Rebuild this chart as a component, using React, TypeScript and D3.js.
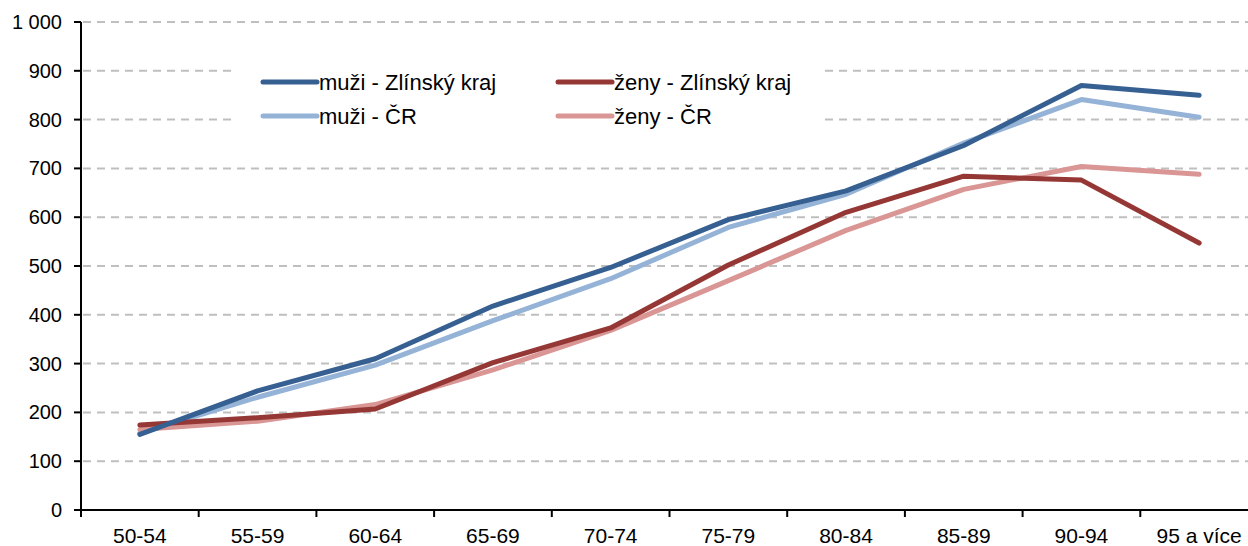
import React from "react";
import * as d3 from "d3";

const categories = ["50-54", "55-59", "60-64", "65-69", "70-74", "75-79", "80-84", "85-89", "90-94", "95 a více"];
const muziZlin = [155, 244, 310, 418, 497, 595, 654, 747, 870, 850];
const muziCR = [157, 231, 297, 388, 474, 579, 647, 752, 841, 805];
const zenyZlin = [174, 189, 207, 302, 373, 502, 610, 684, 676, 547];
const zenyCR = [165, 182, 216, 287, 368, 470, 573, 657, 704, 688];
const yTicks = [0, 100, 200, 300, 400, 500, 600, 700, 800, 900, 1000];

const seriesList = [
  { name: "muži - Zlínský kraj", values: muziZlin, color: "#376092" },
  { name: "ženy - Zlínský kraj", values: zenyZlin, color: "#953735" },
  { name: "muži - ČR", values: muziCR, color: "#95B3D7" },
  { name: "ženy - ČR", values: zenyCR, color: "#D99694" },
];
const drawOrder = [2, 3, 1, 0];

const W = 1248;
const H = 546;
const left = 81;
const right = 1258;
const top = 22;
const bottom = 510;
const font = "'Liberation Sans', Arial, sans-serif";

function fmt(v: number) {
  return v >= 1000 ? d3.format(",")(v).replace(",", " ") : String(v);
}

export default function App() {
  const x = d3.scaleBand<string>().domain(categories).range([left, right]).padding(0);
  const y = d3.scaleLinear().domain([0, 1000]).range([bottom, top]);
  const cx = (i: number) => (x(categories[i]) as number) + x.bandwidth() / 2;
  const line = d3
    .line<number>()
    .x((_, i) => cx(i))
    .y((d) => y(d));

  const legendPos = [
    { lx: 263, ly: 82 },
    { lx: 558, ly: 82 },
    { lx: 263, ly: 116 },
    { lx: 558, ly: 116 },
  ];

  return (
    <svg
      width={W}
      height={H}
      style={{ position: "fixed", left: 0, top: 0, background: "#fff" }}
      fontFamily={font}
    >
      <rect x={0} y={0} width={W} height={H} fill="#fff" />
      {yTicks
        .filter((t) => t > 0)
        .map((t) => (
          <line
            key={"g" + t}
            x1={left + 2}
            x2={W}
            y1={y(t)}
            y2={y(t)}
            stroke="#BFBFBF"
            strokeWidth={2}
            strokeDasharray="8,6"
          />
        ))}
      {/* legend background */}
      <rect x={233} y={50} width={590} height={80} fill="#fff" />
      {drawOrder.map((k) => (
        <path
          key={"s" + k}
          d={line(seriesList[k].values) || ""}
          fill="none"
          stroke={seriesList[k].color}
          strokeWidth={5}
          strokeLinejoin="round"
          strokeLinecap="round"
        />
      ))}
      {/* axes */}
      <line x1={left} x2={left} y1={top} y2={bottom} stroke="#000" strokeWidth={2} />
      <line x1={left - 7} x2={W} y1={bottom} y2={bottom} stroke="#000" strokeWidth={2} />
      {yTicks.map((t) => (
        <g key={"yt" + t}>
          <line x1={left - 7} x2={left} y1={y(t)} y2={y(t)} stroke="#000" strokeWidth={2} />
          <text x={62} y={y(t)} dy="0.35em" textAnchor="end" fontSize={20} fill="#000">
            {fmt(t)}
          </text>
        </g>
      ))}
      {categories.map((c, i) => (
        <g key={"xt" + c}>
          <line
            x1={x(c) as number}
            x2={x(c) as number}
            y1={bottom}
            y2={bottom + 7}
            stroke="#000"
            strokeWidth={2}
          />
          <text x={cx(i)} y={543} textAnchor="middle" fontSize={21} fill="#000">
            {c}
          </text>
        </g>
      ))}
      {seriesList.map((s, k) => (
        <g key={"l" + k}>
          <line
            x1={legendPos[k].lx}
            x2={legendPos[k].lx + 54}
            y1={legendPos[k].ly}
            y2={legendPos[k].ly}
            stroke={s.color}
            strokeWidth={5}
            strokeLinecap="round"
          />
          <text x={legendPos[k].lx + 56} y={legendPos[k].ly} dy="0.35em" fontSize={22} fill="#000">
            {s.name}
          </text>
        </g>
      ))}
    </svg>
  );
}
